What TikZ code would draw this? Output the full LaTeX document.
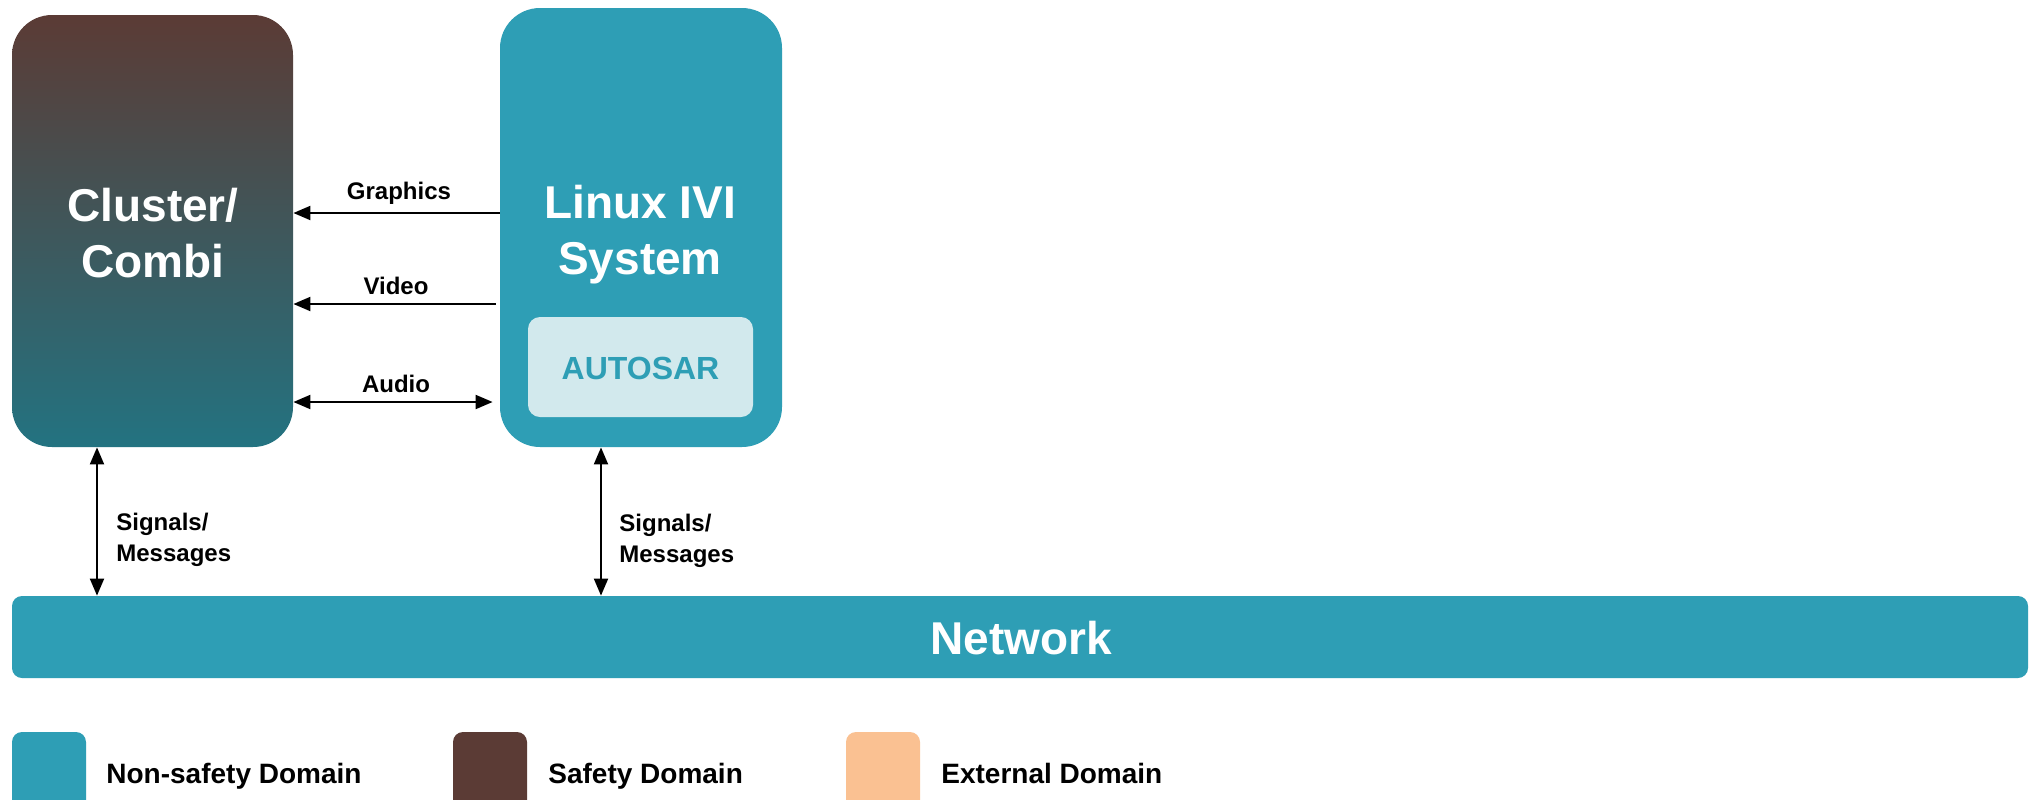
\documentclass[tikz,border=0pt]{standalone}
\usepackage{fontspec}
\setmainfont{Liberation Sans}
\usetikzlibrary{arrows.meta}
\definecolor{tealN}{HTML}{2E9EB5}
\definecolor{brownS}{HTML}{5B3B35}
\definecolor{tealD}{HTML}{237381}
\definecolor{autobg}{HTML}{D2E9ED}
\definecolor{extC}{HTML}{FAC192}
\begin{document}
\begin{tikzpicture}[x=0.5pt,y=-0.5pt,
  bigbox/.style={rectangle, rounded corners=20pt, inner sep=0pt, draw=none},
  bigtxt/.style={text=white, font=\bfseries\fontsize{23}{28}\selectfont, align=center, inner sep=0pt},
  lbl/.style={font=\bfseries\fontsize{12}{15.5}\selectfont, inner sep=0pt},
  legtxt/.style={font=\bfseries\fontsize{14}{16}\selectfont, inner sep=0pt, anchor=base west},
  legbox/.style={rectangle, rounded corners=5pt, minimum width=37pt, minimum height=40pt, inner sep=0pt},
  arr/.style={line width=1pt, -{Triangle[length=8.5pt,width=7pt]}},
  darr/.style={line width=1pt, {Triangle[length=8.5pt,width=7pt]}-{Triangle[length=8.5pt,width=7pt]}}]
\clip (0,0) rectangle (2036,799);
\useasboundingbox (0,0) rectangle (2036,799);
\fill[white] (0,0) rectangle (2036,799);

% Cluster
\node[bigbox, minimum width=140.5pt, minimum height=216pt, top color=brownS, bottom color=tealD] (clu) at (152.5,231) {};
\node[bigtxt] (clut) at (153,233) {Cluster/\\Combi};

% Linux IVI
\node[bigbox, fill=tealN, minimum width=141pt, minimum height=219.5pt] (lin) at (641,227.5) {};
\node[bigtxt] (lint) at (640,235) {Linux IVI\\System};
\node[rectangle, rounded corners=6pt, fill=autobg, minimum width=112.5pt, minimum height=50pt, inner sep=0pt] (aut) at (640.5,367) {};
\node[text=tealN, font=\bfseries\fontsize{16}{18}\selectfont, inner sep=0pt] (autt) at (640.5,368) {AUTOSAR};

% Network
\node[rectangle, rounded corners=5pt, fill=tealN, minimum width=1008pt, minimum height=41pt, inner sep=0pt] (net) at (1020,637) {};
\node[text=white, font=\bfseries\fontsize{23}{28}\selectfont, inner sep=0pt] (nett) at (1021,638) {Network};

% horizontal connectors
\draw[arr] (lin.west |- 0,213) -- (clu.east |- 0,213);
\draw[arr] ([xshift=-2pt]lin.west |- 0,304) -- (clu.east |- 0,304);
\draw[darr] (clu.east |- 0,402) -- ([xshift=-3.5pt]lin.west |- 0,402);
\node[lbl] (gl) at (399,193) {Graphics};
\node[lbl] (vl) at (396,286) {Video};
\node[lbl] (al) at (396,384) {Audio};

% vertical connectors
\draw[darr] (clu.south -| 97,0) -- (net.north -| 97,0);
\draw[darr] (lin.south -| 601,0) -- (net.north -| 601,0);
\node[lbl, align=left, anchor=west] (sl1) at (116,540) {Signals/\\Messages};
\node[lbl, align=left, anchor=west] (sl2) at (619,541) {Signals/\\Messages};

% legend
\node[legbox, fill=tealN] (lg1) at (49,772) {};
\node[legbox, fill=brownS] (lg2) at (490,772) {};
\node[legbox, fill=extC] (lg3) at (883,772) {};
\node[legtxt] (lt1) at (106,783) {Non-safety Domain};
\node[legtxt] (lt2) at (548,783) {Safety Domain};
\node[legtxt] (lt3) at (941,783) {External Domain};
\end{tikzpicture}
\end{document}
